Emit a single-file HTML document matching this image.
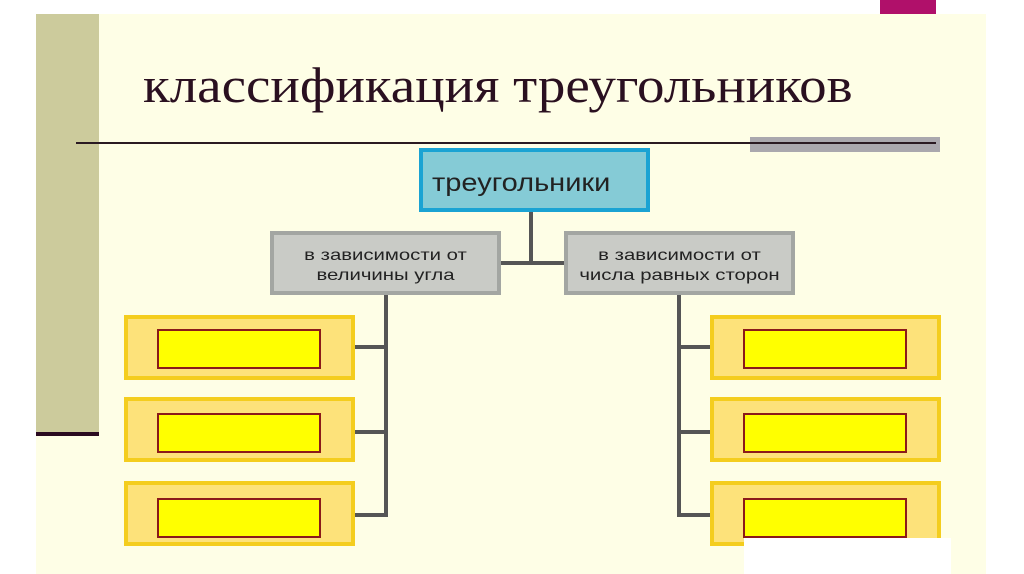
<!DOCTYPE html>
<html><head><meta charset="utf-8"><style>
body{margin:0;width:1024px;height:574px;background:#fff;position:relative;overflow:hidden;font-family:"Liberation Sans",sans-serif}
div{position:absolute;box-sizing:border-box}
.o{background:#fde27a;border:4px solid #f4cd1e;width:231px;height:65px}
.i{background:#ffff00;border:2px solid #8b1a1a;width:164px;height:40px}
.v{background:#555}
.g{background:#c9cbc6;border:4px solid #a3a6a2;width:231px;height:64px}
.t{position:absolute;left:0;width:223px;text-align:center;font-size:16px;color:#222;line-height:20px;top:11px;transform:scaleX(1.27);white-space:nowrap}
</style></head><body>
<div style="left:36px;top:14px;width:950px;height:560px;background:#fefee6"></div>
<div style="left:880px;top:0;width:56px;height:14px;background:#b0106a"></div>
<div style="left:36px;top:14px;width:63px;height:420px;background:#cccb9c"></div>
<div style="left:36px;top:432px;width:63px;height:4px;background:#2a0a20"></div>
<div style="left:143px;top:60px;font-family:'Liberation Serif',serif;font-size:50px;line-height:1;color:#2a1020;transform:scaleX(1.1);transform-origin:left;white-space:nowrap">классификация треугольников</div>
<div style="left:750px;top:137px;width:190px;height:15px;background:#aaa8ae"></div>
<div style="left:76px;top:142px;width:860px;height:2px;background:#2a1a22"></div>
<div style="left:419px;top:148px;width:231px;height:64px;background:#85cbd6;border:4px solid #1ba3d3"><span style="position:absolute;left:9px;top:17px;font-size:25px;color:#222;transform:scaleX(1.16);transform-origin:left;white-space:nowrap">треугольники</span></div>
<div class="v" style="left:529px;top:212px;width:4px;height:53px"></div>
<div class="v" style="left:500px;top:261px;width:64px;height:4px"></div>
<div class="g" style="left:270px;top:231px"><span class="t">в зависимости от<br>величины угла</span></div>
<div class="g" style="left:564px;top:231px"><span class="t">в зависимости от<br>числа равных сторон</span></div>
<div class="v" style="left:384px;top:295px;width:4px;height:222px"></div>
<div class="v" style="left:355px;top:345px;width:31px;height:4px"></div>
<div class="v" style="left:355px;top:430px;width:31px;height:4px"></div>
<div class="v" style="left:355px;top:513px;width:31px;height:4px"></div>
<div class="v" style="left:677px;top:295px;width:4px;height:222px"></div>
<div class="v" style="left:677px;top:345px;width:33px;height:4px"></div>
<div class="v" style="left:677px;top:430px;width:33px;height:4px"></div>
<div class="v" style="left:677px;top:513px;width:33px;height:4px"></div>
<div class="o" style="left:124px;top:315px"></div><div class="i" style="left:157px;top:329px"></div>
<div class="o" style="left:124px;top:397px"></div><div class="i" style="left:157px;top:413px"></div>
<div class="o" style="left:124px;top:481px"></div><div class="i" style="left:157px;top:498px"></div>
<div class="o" style="left:710px;top:315px"></div><div class="i" style="left:743px;top:329px"></div>
<div class="o" style="left:710px;top:397px"></div><div class="i" style="left:743px;top:413px"></div>
<div class="o" style="left:710px;top:481px"></div><div class="i" style="left:743px;top:498px"></div>
<div style="left:744px;top:538px;width:207px;height:36px;background:#fff"></div>
</body></html>
